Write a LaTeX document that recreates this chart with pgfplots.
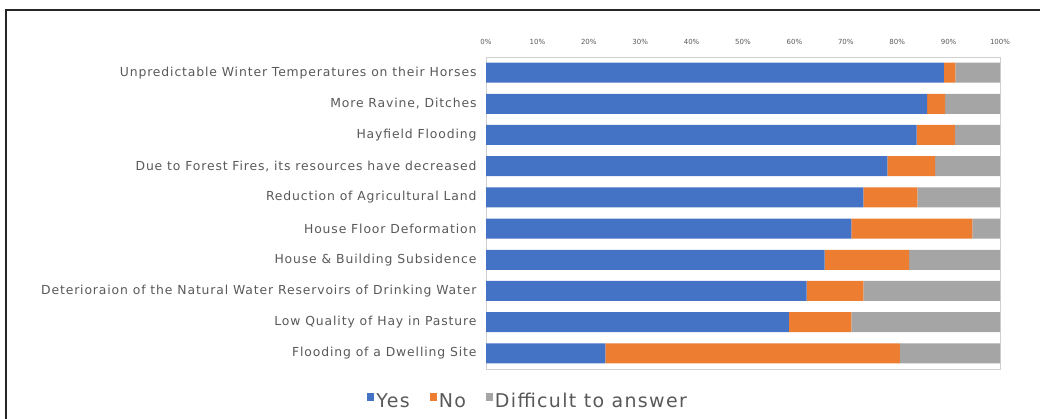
\documentclass[border=0pt]{standalone}
\usepackage{pgfplots}
\pgfplotsset{compat=1.18}
\usepackage{pgfplotstable}
\usepackage{fontspec}
\setmainfont{DejaVu Sans}
\newfontfamily\wide[LetterSpace=7]{DejaVu Sans}
\definecolor{cblue}{HTML}{4472C4}
\definecolor{corange}{HTML}{ED7D31}
\definecolor{cgray}{HTML}{A5A5A5}
\definecolor{ctext}{HTML}{595959}
\definecolor{cframe}{HTML}{D0D0D0}
\pgfplotstableread{
idx yes no diff
0 89.1 2.2 8.7
1 85.8 3.5 10.7
2 83.8 7.4 8.8
3 78.1 9.3 12.6
4 73.4 10.5 16.1
5 71.1 23.5 5.4
6 65.9 16.4 17.7
7 62.4 11.0 26.6
8 58.9 12.2 28.9
9 23.2 57.3 19.5
}\datatable
\begin{document}
\begin{tikzpicture}
\useasboundingbox (0,0) rectangle (1040pt,419pt);
\draw[line width=2pt, black!85] (6pt,0pt) -- (6pt,409pt) -- (1040pt,409pt);
\begin{axis}[
  at={(486pt,50pt)}, anchor=south west,
  scale only axis, width=514pt, height=312pt,
  xbar stacked, bar width=20pt,
  xmin=0, xmax=100,
  ymin=-0.5, ymax=9.5, y dir=reverse,
  xtick={0,10,...,100},
  xticklabel={\pgfmathprintnumber{\tick}\%},
  xticklabel pos=upper,
  xticklabel style={font=\fontsize{7}{8}\selectfont, text=ctext, yshift=9pt},
  /pgf/number format/assume math mode=true,
  ytick={0,...,9},
  yticklabels={Unpredictable Winter Temperatures on their Horses, More Ravine{,} Ditches, Hayfield Flooding, {Due to Forest Fires, its resources have decreased}, Reduction of Agricultural Land, House Floor Deformation, House \& Building Subsidence, Deterioraion of the Natural Water Reservoirs of Drinking Water, Low Quality of Hay in Pasture, Flooding of a Dwelling Site},
  yticklabel style={font=\wide\fontsize{12.4}{14}\selectfont, text=ctext, xshift=-6pt},
  major tick length=0pt,
  axis line style={cframe, line width=0.8pt},
  legend style={at={(0.082,-0.102)}, anchor=center, draw=none, fill=none,
    font=\wide\fontsize{19}{22}\selectfont, text=ctext, legend columns=-1,
    /tikz/every even column/.append style={column sep=18pt}},
  legend image code/.code={\fill[#1] (0pt,0pt) rectangle (7pt,8pt);},
]
\addplot[fill=cblue, draw=none] table[x=yes, y=idx] {\datatable};
\addplot[fill=corange, draw=none] table[x=no, y=idx] {\datatable};
\addplot[fill=cgray, draw=none] table[x=diff, y=idx] {\datatable};
\legend{Yes, No, Difficult to answer}
\end{axis}
\end{tikzpicture}
\end{document}
